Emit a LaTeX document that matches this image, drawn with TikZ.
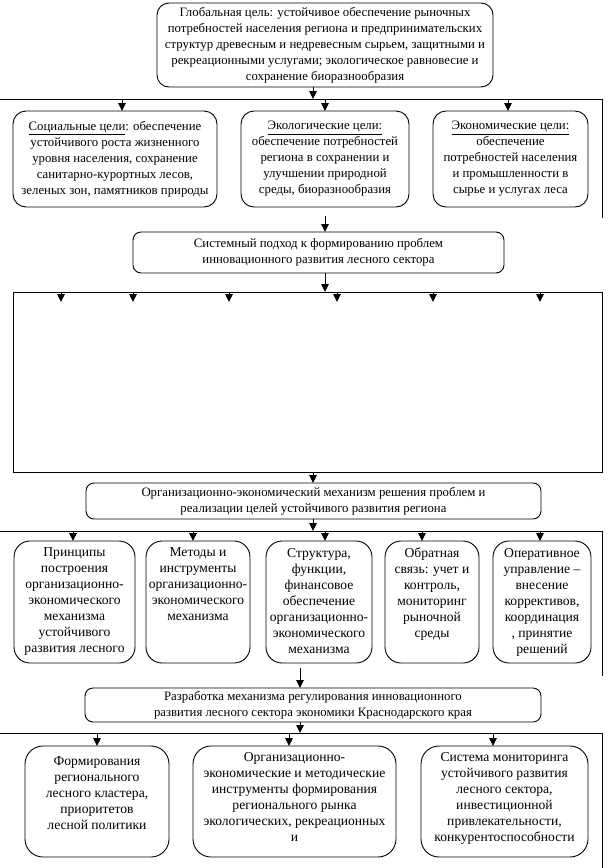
\documentclass[tikz,border=0pt]{standalone}
\usepackage{fontspec}
\setmainfont{Liberation Serif}
\usetikzlibrary{arrows.meta}
\begin{document}
\begin{tikzpicture}[x=1pt,y=-1pt,
  every node/.style={inner sep=0pt, outer sep=0pt},
  box/.style={draw, line width=0.9pt, rounded corners=#1},
  box/.default=12pt,
  txt/.style={align=center, font=\fontsize{12.8}{16}\selectfont},
  btxt/.style={align=center, font=\fontsize{13.6}{16}\selectfont},
  arr/.style={line width=0.9pt, -{Triangle[width=7.5pt,length=8pt]}},
  ln/.style={line width=0.9pt}]
\useasboundingbox (0,0) rectangle (613,868);
\fill[white] (0,0) rectangle (613,868);

% top box
\node[box=12pt, minimum width=336pt, minimum height=84pt] (top) at (325,45) {};
\node[txt] at (top.center) {Глобальная цель: устойчивое обеспечение рыночных\\
потребностей населения региона и предпринимательских\\
структур древесным и недревесным сырьем, защитными и\\
рекреационными услугами;  экологическое равновесие и\\
сохранение биоразнообразия};

\coordinate (l1a) at (0,99);
\coordinate (l1b) at (602,99);
\coordinate (l1c) at (602,218);
\draw[ln] (l1a) -- (l1b) -- (l1c);
\coordinate (t1) at (313,99);
\draw[arr] (t1 |- top.south) -- (t1);

% goal boxes
\node[box=13pt, minimum width=204pt, minimum height=96pt] (soc) at (115,159) {};
\node[box=13pt, minimum width=168pt, minimum height=96pt] (eco) at (325,159) {};
\node[box=13pt, minimum width=155pt, minimum height=96pt] (ecn) at (510.5,159) {};
\node[txt] at (soc.center) {\underline{Социальные цели}: обеспечение\\
устойчивого роста жизненного\\
уровня населения, сохранение\\
санитарно-курортных лесов,\\
зеленых зон, памятников природы};
\node[txt] at (eco.center) {\underline{Экологические цели:}\\
обеспечение потребностей\\
региона в сохранении и\\
улучшении природной\\
среды, биоразнообразия};
\node[txt] at (ecn.center) {\underline{Экономические цели:}\\
обеспечение\\
потребностей населения\\
и промышленности в\\
сырье и услугах леса};
\coordinate (g1) at (122,99);
\coordinate (g2) at (325,99);
\coordinate (g3) at (508,99);
\draw[arr] (g1) -- (g1 |- soc.north);
\draw[arr] (g2) -- (g2 |- eco.north);
\draw[arr] (g3) -- (g3 |- ecn.north);

% system box
\node[box=8pt, minimum width=371pt, minimum height=41pt] (sys) at (318.5,252.5) {};
\node[txt] at (sys.center) {Системный подход к формированию проблем\\
инновационного развития лесного сектора};
\coordinate (s0) at (325,216);
\draw[arr] (s0) -- (s0 |- sys.north);

% big rectangle
\node[draw, line width=0.9pt, minimum width=589pt, minimum height=180pt] (big) at (307.5,382) {};
\coordinate (s1) at (325,292);
\draw[arr] (s1 |- sys.south) -- (s1);
\foreach \x [count=\i] in {61,133,229,337,433,540}{
  \coordinate (p\i) at (\x,292);
  \coordinate (q\i) at (\x,302);
  \draw[arr] (p\i) -- (q\i);
}

% mechanism box
\node[box=8pt, minimum width=455pt, minimum height=36pt] (mech) at (313.5,501) {};
\node[txt] at (mech.center) {Организационно-экономический механизм решения проблем и\\
реализации целей устойчивого развития региона};
\coordinate (m0) at (313,472);
\draw[arr] (m0 |- big.south) -- (m0 |- mech.north);
\coordinate (l2a) at (0,531);
\coordinate (l2b) at (602,531);
\coordinate (l2c) at (602,676);
\draw[ln] (l2a) -- (l2b) -- (l2c);
\coordinate (m1) at (313,531);
\draw[arr] (m1 |- mech.south) -- (m1);

% five mechanism boxes
\node[box=16pt, minimum width=121pt, minimum height=122pt] (k1) at (74.5,602) {};
\node[box=16pt, minimum width=104pt, minimum height=122pt] (k2) at (198,602) {};
\node[box=16pt, minimum width=106pt, minimum height=122pt] (k3) at (319,602) {};
\node[box=16pt, minimum width=94pt, minimum height=122pt] (k4) at (432,602) {};
\node[box=16pt, minimum width=98pt, minimum height=122pt] (k5) at (542,602) {};
\node[btxt, anchor=north] at ([yshift=-7pt]k1.north) {Принципы\\построения\\организационно-\\экономического\\механизма\\устойчивого\\развития лесного};
\node[btxt, anchor=north] at ([yshift=-7pt]k2.north) {Методы и\\инструменты\\организационно-\\экономического\\механизма};
\node[btxt, anchor=north] at ([yshift=-7pt]k3.north) {Структура,\\функции,\\финансовое\\обеспечение\\организационно-\\экономического\\механизма};
\node[btxt, anchor=north] at ([yshift=-7pt]k4.north) {Обратная\\связь: учет и\\контроль,\\мониторинг\\рыночной\\среды};
\node[btxt, anchor=north] at ([yshift=-7pt]k5.north) {Оперативное\\управление –\\внесение\\коррективов,\\координация\\, принятие\\решений};
\foreach \x/\n in {73/k1,193/k2,325/k3,422/k4,540/k5}{
  \coordinate (c\n) at (\x,531);
  \draw[arr] (c\n) -- (c\n |- \n.north);
}

% regulation box
\node[box=8pt, minimum width=456pt, minimum height=34pt] (reg) at (313,705) {};
\node[txt] at (reg.center) {Разработка механизма регулирования инновационного\\
развития лесного сектора экономики Краснодарского края};
\coordinate (r0) at (300,668);
\draw[arr] (r0) -- (r0 |- reg.north);
\coordinate (l3a) at (0,733);
\coordinate (l3b) at (602,733);
\coordinate (l3c) at (602,868);
\draw[ln] (l3a) -- (l3b) -- (l3c);
\coordinate (r1) at (300,733);
\draw[arr] (r1 |- reg.south) -- (r1);

% bottom boxes
\node[box=18pt, minimum width=144pt, minimum height=111pt] (b1) at (97,801.5) {};
\node[box=18pt, minimum width=203pt, minimum height=111pt] (b2) at (294.5,801.5) {};
\node[box=18pt, minimum width=167pt, minimum height=111pt] (b3) at (504.5,801.5) {};
\node[btxt, anchor=north] at ([yshift=-11pt]b1.north) {Формирования\\регионального\\лесного кластера,\\приоритетов\\лесной политики};
\node[btxt, anchor=north] at ([yshift=-6pt]b2.north) {Организационно-\\экономические и методические\\инструменты формирования\\регионального рынка\\экологических, рекреационных\\и};
\node[btxt, anchor=north] at ([yshift=-6pt]b3.north) {Система мониторинга\\устойчивого развития\\лесного сектора,\\инвестиционной\\привлекательности,\\конкурентоспособности};
\foreach \x/\n in {97/b1,289/b2,493/b3}{
  \coordinate (d\n) at (\x,733);
  \draw[arr] (d\n) -- (d\n |- \n.north);
}
\end{tikzpicture}
\end{document}
